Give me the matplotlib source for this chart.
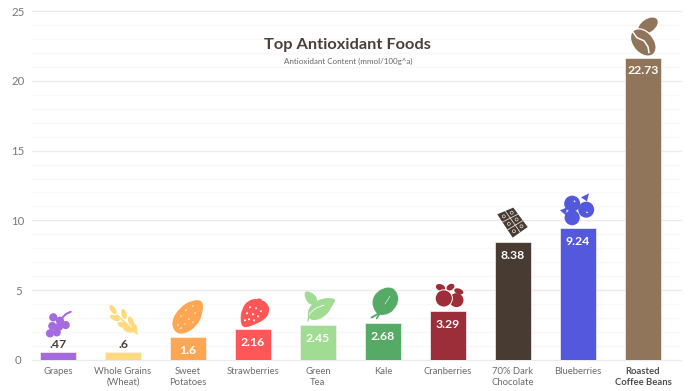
import matplotlib
matplotlib.use('Agg')
import matplotlib.pyplot as plt
from matplotlib.patches import Circle, Ellipse, PathPatch, Polygon
from matplotlib.path import Path
from matplotlib.ticker import MultipleLocator
from matplotlib.transforms import Affine2D

plt.rcParams['font.family'] = ['Lato', 'DejaVu Sans']

categories = ['Grapes', 'Whole Grains\n(Wheat)', 'Sweet\nPotatoes', 'Strawberries', 'Green\nTea',
              'Kale', 'Cranberries', '70% Dark\nChocolate', 'Blueberries', 'Roasted\nCoffee Beans']
# bar heights as drawn in the picture, they do not quite follow the printed labels
heights = [0.57, 0.57, 1.64, 2.2, 2.5, 2.64, 3.5, 8.43, 9.43, 21.65]
value_labels = ['.47', '.6', '1.6', '2.16', '2.45', '2.68', '3.29', '8.38', '9.24', '22.73']
colors = ['#a66ae0', '#ffd97d', '#ffa652', '#ff5757', '#a0dc92',
          '#55aa66', '#9b2e38', '#483b31', '#5358dc', '#90755a']

W, H = 690, 391
fig = plt.figure(figsize=(W / 100, H / 100), dpi=100)
ax = fig.add_axes([32 / W, (H - 360) / H, 649 / W, 349 / H])
xpos = list(range(len(categories)))
ax.bar(xpos, heights, width=0.54, color=colors, edgecolor='#f4f2f0', linewidth=0.5, zorder=3)
ax.set_xlim(-0.4, 9.585)
ax.set_ylim(0, 25)

ax.yaxis.set_major_locator(MultipleLocator(5))
ax.yaxis.set_minor_locator(MultipleLocator(1))
ax.grid(True, which='major', axis='y', color='#ebebeb', linewidth=1, zorder=0)
ax.grid(True, which='minor', axis='y', color='#f8f8f8', linewidth=1, zorder=0)
ax.set_axisbelow(True)
for s in ax.spines.values():
    s.set_visible(False)
for line in ax.yaxis.get_gridlines():
    line.set_clip_on(False)

ax.tick_params(axis='both', which='both', length=0)
ax.tick_params(axis='y', pad=10, labelsize=8.2, labelcolor='#777777')
for lbl in ax.get_yticklabels():
    lbl.set_ha('center')
ax.set_xticks(xpos)
ax.set_xticklabels(categories, fontsize=6.8, color='#6b6b6b', linespacing=1.3)
ax.tick_params(axis='x', pad=5)
last = ax.get_xticklabels()[-1]
last.set_fontweight('bold')
last.set_color('#4f4f4f')

for i, txt in enumerate(value_labels):
    if heights[i] < 1:
        ax.annotate(txt, (i, heights[i]), xytext=(0, 8), textcoords='offset pixels', ha='center', va='center',
                    fontsize=8.8, fontweight='bold', color='#4a3f3a', zorder=5)
    else:
        ax.annotate(txt, (i, heights[i]), xytext=(0, -13), textcoords='offset pixels', ha='center', va='center',
                    fontsize=8.8, fontweight='bold', color='white', zorder=5)

fig.text(347 / W, 1 - 45 / H, 'Top Antioxidant Foods', ha='center', va='center',
         fontsize=11.8, fontweight='bold', color='#4a3f3a')
fig.text(348 / W, 1 - 61.5 / H, 'Antioxidant Content (mmol/100g^a)', ha='center', va='center',
         fontsize=5.8, color='#666666')


# icons sit on top of each bar, local units are pixels, y pointing down from the bar top
def anchor(i):
    x, y = ax.transData.transform((i, heights[i]))
    return Affine2D().scale(1, -1).translate(x, y)


def blob(points):
    # smooth closed shape through the midpoints of the given outline
    mids = [((points[k][0] + points[(k + 1) % len(points)][0]) / 2,
             (points[k][1] + points[(k + 1) % len(points)][1]) / 2) for k in range(len(points))]
    verts = [mids[-1]]
    codes = [Path.MOVETO]
    for k in range(len(points)):
        verts += [points[k], mids[k]]
        codes += [Path.CURVE3, Path.CURVE3]
    return Path(verts, codes)


def add(p, i):
    p.set_transform(anchor(i))
    p.set_clip_on(False)
    p.set_zorder(6)
    fig.add_artist(p)


def shape(i, points, color, **kw):
    add(PathPatch(blob(points), facecolor=color, edgecolor=kw.pop('edgecolor', 'none'), **kw), i)


def dot(i, x, y, r, color, **kw):
    add(Circle((x, y), r, facecolor=color, edgecolor=kw.pop('edgecolor', 'none'), **kw), i)


def oval(i, x, y, w, h, angle, color, **kw):
    add(Ellipse((x, y), w, h, angle=angle, facecolor=color, edgecolor=kw.pop('edgecolor', 'none'), **kw), i)


def stroke(i, pts, color, lw):
    line = plt.Line2D([p[0] for p in pts], [p[1] for p in pts], color=color, linewidth=lw,
                      solid_capstyle='round')
    line.set_transform(anchor(i))
    line.set_zorder(7)
    fig.add_artist(line)


# grapes
c = colors[0]
stroke(0, [(3.7, -33.7), (8, -38), (12.7, -40.3)], c, 1.5)
for x, y in [(-4.7, -34.7), (2, -31.3), (-5.7, -26), (1, -25.3), (7.7, -27), (-8, -18.7), (-1.3, -19.7)]:
    dot(0, x, y, 4.1, c)

# wheat
c = colors[1]
stroke(1, [(-6, -37), (14.3, -18)], c, 1.2)
for x, y, a in [(-10, -42.5, 55), (1, -38, 75), (-8, -34, 25), (8, -30.5, 70), (-0.5, -27, 20), (11.5, -24, 75),
                (5, -22.5, 20)]:
    oval(1, x, y, 10.5, 5.2, a, c)

# sweet potato
c = colors[2]
shape(2, [(15, -37), (4, -37), (-8, -30), (-17, -16), (-13, -4), (-3, -3), (9, -11), (15, -24)], c)
for x, y in [(5, -31), (-2, -27), (7, -24), (-7, -21), (1, -18), (-10, -12), (-3, -13), (5, -15), (-7, -9)]:
    oval(2, x, y, 2.2, 1, -50, 'white')

# strawberry
c = colors[3]
shape(3, [(-11, -21), (-5, -29), (5, -31), (15, -26), (17, -17), (11, -9), (0, -4), (-10, -1), (-13, -9)], c)
for x, y, a in [(6, -29, 0), (11, -26, 40), (13, -21, 80)]:
    oval(3, x, y, 6, 3.5, a, c)
for x, y in [(-3, -22), (3, -21), (8, -18), (-6, -16), (0, -15), (5, -13), (-4, -10), (1, -9), (-8, -9)]:
    dot(3, x, y, 1, 'white')

# green tea
c = colors[4]
shape(4, [(-15, -36), (-1, -30), (-1, -20), (-11, -21)], c)
shape(4, [(19, -27), (3, -27), (-9, -19), (-11, -7), (-2, -4), (9, -10), (14, -19)], c)
stroke(4, [(-10, -5), (-8, -12), (-2, -17), (6, -20)], 'white', 0.6)
stroke(4, [(-10, -4), (-9, -10)], c, 1)

# kale
c = colors[5]
shape(5, [(10, -37), (17, -25), (11, -12), (0, -7), (-8, -10), (-12, -23), (-4, -34)], c,
      edgecolor='white', linewidth=0.5, linestyle=':')
stroke(5, [(-1.3, -11.3), (-11.3, -5.7)], c, 1.4)
stroke(5, [(-3, -10), (-6.3, -4.7)], c, 1.2)
stroke(5, [(2, -19), (7, -27)], 'white', 0.4)

# cranberries
c = colors[6]
oval(6, -7.5, -23.7, 9.5, 6.5, 20, c)
oval(6, 2.5, -24, 8.5, 6, -30, c)
oval(6, 10.8, -19.8, 9.5, 5.5, 20, c)
dot(6, 8.5, -11, 7, c)
dot(6, -4.2, -12.7, 8.6, c, edgecolor='white', linewidth=0.7)

# chocolate
c = colors[7]
corners = [(-15.7, -28), (0.3, -34.7), (14.7, -15.3), (-0.3, -4.7)]
add(Polygon(corners, closed=True, facecolor=c, edgecolor='none'), 7)
for f in (0.5,):
    a = [corners[0][k] + f * (corners[1][k] - corners[0][k]) for k in (0, 1)]
    b = [corners[3][k] + f * (corners[2][k] - corners[3][k]) for k in (0, 1)]
    stroke(7, [a, b], '#e4e0dc', 0.6)
for f in (1 / 3, 2 / 3):
    a = [corners[0][k] + f * (corners[3][k] - corners[0][k]) for k in (0, 1)]
    b = [corners[1][k] + f * (corners[2][k] - corners[1][k]) for k in (0, 1)]
    stroke(7, [a, b], '#e4e0dc', 0.6)
for u in (0.25, 0.75):
    for v in (1 / 6, 0.5, 5 / 6):
        tx = sum(w * p[0] for w, p in zip([(1 - u) * (1 - v), u * (1 - v), u * v, (1 - u) * v], corners))
        ty = sum(w * p[1] for w, p in zip([(1 - u) * (1 - v), u * (1 - v), u * v, (1 - u) * v], corners))
        add(Circle((tx, ty), 1.5, facecolor='none', edgecolor='#e4e0dc', linewidth=0.5), 7)

# blueberries
c = colors[8]
for x, y, r in [(-5.8, -24.7, 8), (8.2, -18.7, 8), (-5.8, -10.7, 7.6)]:
    dot(8, x, y, r, c)
add(Polygon([(-18, -18), (-11, -21), (-12, -13)], closed=True, facecolor=c, edgecolor='none'), 8)
add(Polygon([(3, -31), (11, -35), (9, -27)], closed=True, facecolor=c, edgecolor='none'), 8)
dot(8, -3.5, -27, 0.8, 'white')
dot(8, 9, -16, 0.8, 'white')

# coffee
c = colors[9]
oval(9, 5, -32, 22, 13, -35, c)
oval(9, 0.3, -15.3, 31, 21, 50, c, edgecolor='white', linewidth=0.9)
stroke(9, [(-11, -27), (-6, -20), (1, -17), (5, -11), (6, -5)], 'white', 1.1)

fig.savefig('out.png', dpi=100)
plt.close(fig)
